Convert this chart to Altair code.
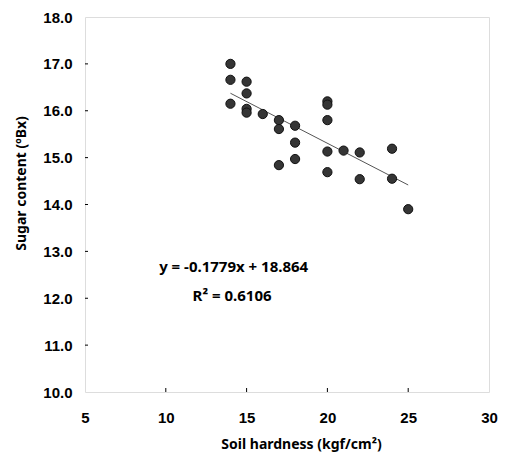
import altair as alt
import pandas as pd

# Scatter data
hardness = [14, 14, 14,
            15, 15, 15, 15,
            16,
            17, 17, 17,
            18, 18, 18,
            20, 20, 20, 20, 20,
            21,
            22, 22,
            24, 24,
            25]
sugar = [17.00, 16.66, 16.15,
         16.62, 16.37, 16.04, 15.96,
         15.93,
         15.80, 15.61, 14.84,
         15.68, 15.32, 14.97,
         16.20, 16.13, 15.80, 15.13, 14.69,
         15.15,
         15.11, 14.54,
         15.19, 14.55,
         13.90]

# Regression line
slope = -0.1779
intercept = 18.864
line_x = [14, 25]
line_y = [slope * v + intercept for v in line_x]

# Annotation
ann_text = ["y = -0.1779x + 18.864", "R² = 0.6106"]
ann_x = [14.2, 14.1]
ann_y = [12.67, 12.04]

# Tick values
x_ticks = [5, 10, 15, 20, 25, 30]
y_ticks = [10, 11, 12, 13, 14, 15, 16, 17, 18]
x_inner_ticks = [10, 15, 20, 25]
y_inner_ticks = [11, 12, 13, 14, 15, 16, 17]

W, H = 404, 375
LBL_FONT = "Liberation Sans"
TTL_FONT = "Noto Sans"

xscale = alt.Scale(domain=[5, 30], nice=False, zero=False)
yscale = alt.Scale(domain=[10, 18], nice=False, zero=False)

pts = pd.DataFrame({"x": hardness, "y": sugar})
ln = pd.DataFrame({"x": line_x, "y": line_y})
ann = pd.DataFrame({"x": ann_x, "y": ann_y, "t": ann_text})
xt = pd.DataFrame({"x": x_inner_ticks})
yt = pd.DataFrame({"y": y_inner_ticks})

xaxis = alt.Axis(values=x_ticks, format="d", ticks=False, tickSize=0, grid=False,
                 domain=False, labelPadding=18, labelFontSize=15, labelFont=LBL_FONT,
                 labelFontWeight="bold", labelColor="black",
                 title="Soil hardness (kgf/cm²)", titleFont=TTL_FONT, titleFontSize=14,
                 titleFontWeight="bold", titleColor="black", titlePadding=12,
                 titleX=216, labelFlush=False)
yaxis = alt.Axis(values=y_ticks, format=".1f", ticks=False, tickSize=0, grid=False,
                 domain=False, labelPadding=13, labelFontSize=15, labelFont=LBL_FONT,
                 labelFontWeight="bold", labelColor="black",
                 title="Sugar content (ºBx)", titleFont=TTL_FONT, titleFontSize=14,
                 titleFontWeight="bold", titleColor="black", titlePadding=14,
                 titleY=166, labelFlush=False)

points = alt.Chart(pts).mark_point(
    shape="circle", filled=True, size=85, color="#353535",
    stroke="#111111", strokeWidth=1, opacity=1
).encode(
    x=alt.X("x:Q", scale=xscale, axis=xaxis),
    y=alt.Y("y:Q", scale=yscale, axis=yaxis),
)

reg = alt.Chart(ln).mark_line(color="#555555", strokeWidth=1).encode(
    x=alt.X("x:Q", scale=xscale),
    y=alt.Y("y:Q", scale=yscale),
)

text = alt.Chart(ann).mark_text(
    font=TTL_FONT, fontSize=15, fontWeight="bold", color="black", align="center"
).encode(
    x=alt.X("x:Q", scale=xscale),
    y=alt.Y("y:Q", scale=yscale),
    text="t:N",
)

xtick = alt.Chart(xt).mark_rule(color="black", strokeWidth=1).encode(
    x=alt.X("x:Q", scale=xscale),
    y=alt.value(H),
    y2=alt.value(H - 4),
)
ytick = alt.Chart(yt).mark_rule(color="black", strokeWidth=1).encode(
    y=alt.Y("y:Q", scale=yscale),
    x=alt.value(0),
    x2=alt.value(3),
)

chart = alt.layer(reg, points, text, xtick, ytick).properties(
    width=W, height=H,
    autosize=alt.AutoSizeParams(type="none"),
    padding={"left": 77, "top": 9, "right": 9, "bottom": 60},
).configure_view(
    stroke="black", strokeWidth=1.2
).configure(background="white")

chart.save("out.html", embed_options={"renderer": "svg", "actions": False})
